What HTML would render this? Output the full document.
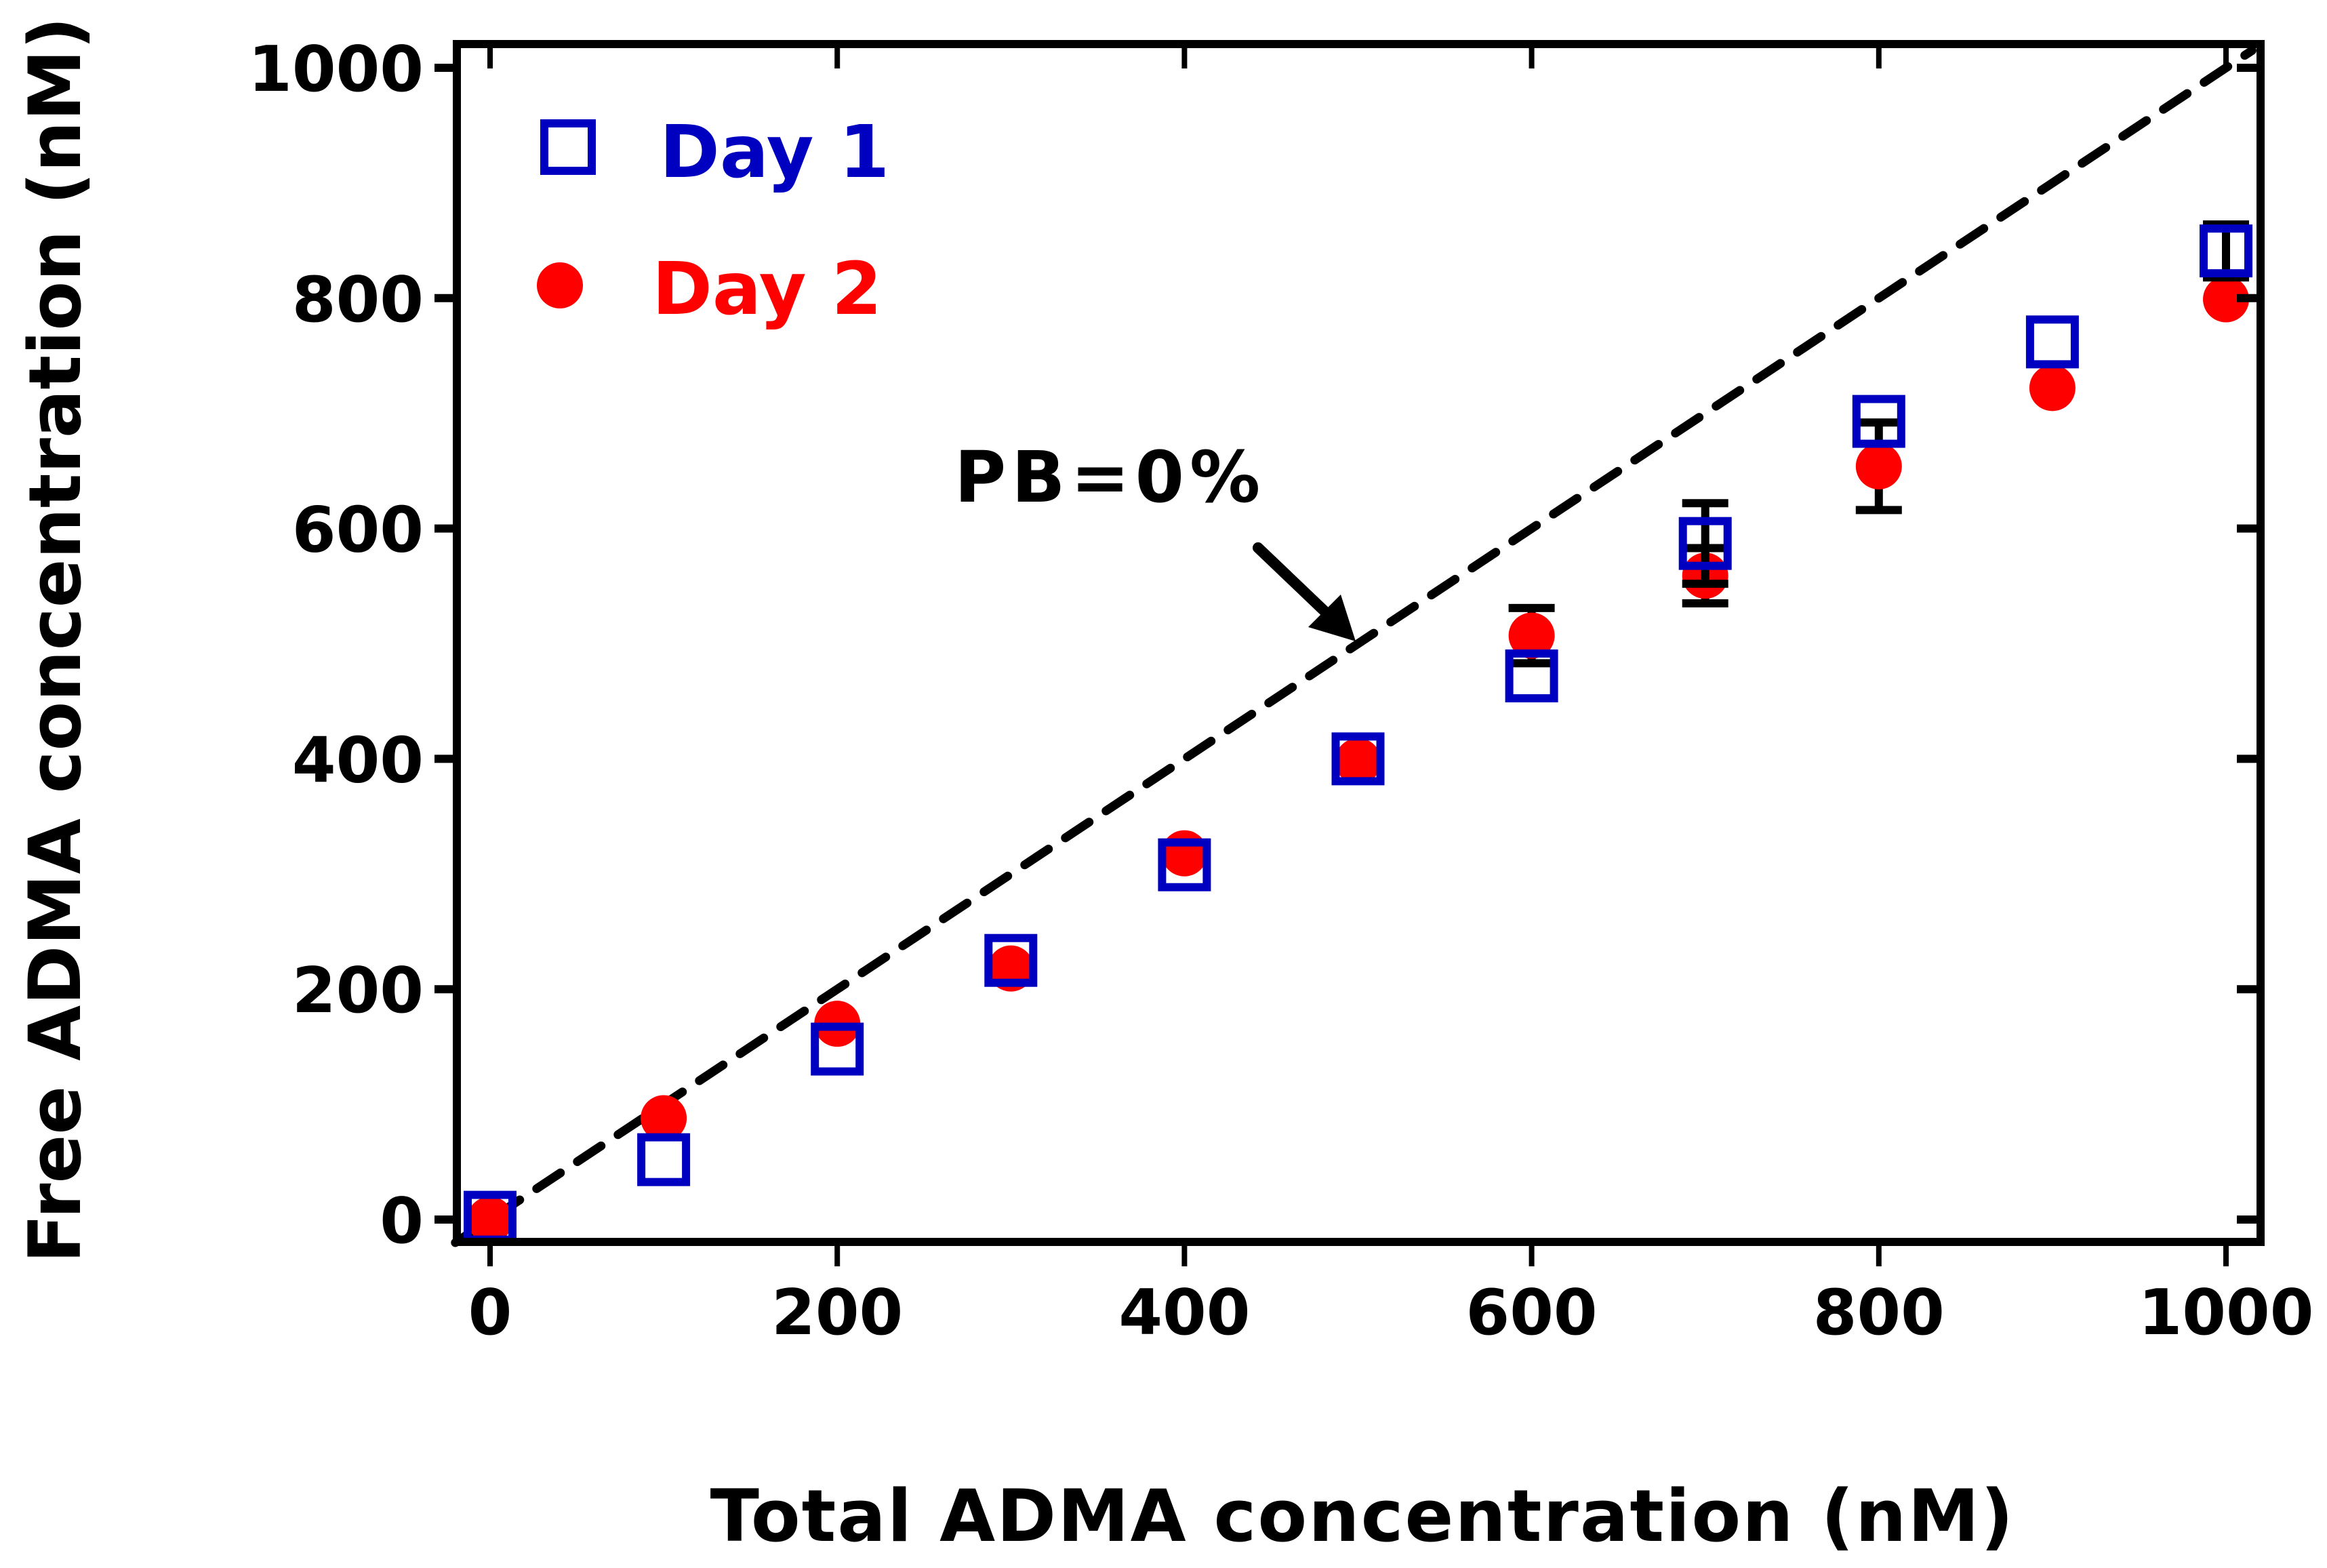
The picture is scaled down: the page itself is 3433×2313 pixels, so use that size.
<!DOCTYPE html>
<html><head><meta charset="utf-8"><style>
html,body{margin:0;padding:0;background:#fff;}
svg{display:block;font-family:"DejaVu Sans","Liberation Sans",sans-serif;font-weight:bold;}
</style></head><body>
<svg id="chart" width="3433" height="2313" viewBox="0 0 3433 2313" xmlns="http://www.w3.org/2000/svg">
<g id="grid"></g>
<line id="idline" stroke="#000" stroke-width="13" stroke-dasharray="42 30" stroke-linecap="round"/>
<g id="marks"></g>
<rect x="674" y="65" width="2661" height="1767" fill="none" stroke="#000" stroke-width="12"/>
<g id="ticks"></g>
<text x="2010" y="2273" font-size="106" text-anchor="middle" letter-spacing="2">Total ADMA concentration (nM)</text>
<text transform="translate(118,944) rotate(-90)" font-size="106" text-anchor="middle">Free ADMA concentration (nM)</text>
<g>
<rect x="803" y="182" width="70" height="70" fill="none" stroke="#0000c0" stroke-width="12"/>
<text x="973" y="261" font-size="107" fill="#0000c0">Day 1</text>
<circle cx="826" cy="421" r="34" fill="#ff0000"/>
<text x="962" y="463" font-size="107" fill="#ff0000">Day 2</text>
</g>
<text x="1408" y="740" font-size="104" letter-spacing="8">PB=0%</text>
<g>
<line x1="1856" y1="808" x2="1965" y2="912" stroke="#000" stroke-width="16" stroke-linecap="round"/>
<polygon points="2000,946 1930,925 1978,877" fill="#000"/>
</g>
</svg>
<script>
const xCats=[0,100,200,300,400,500,600,700,800,900,1000];
const day1=[2,52,148,225,308,400,472,587,693,762,841];
const day2=[0,88,170,218,318,398,507,559,654,722,799];
const day1Err=[0,0,0,0,0,0,0,35,0,0,23];
const day2Err=[0,0,0,0,0,0,24,24,38,0,0];
const tickVals=[0,200,400,600,800,1000];
const tickLabels=["0","200","400","600","800","1000"];
const NS="http://www.w3.org/2000/svg";
function sx(v){return 723+v*2.561;}
function sy(v){return 1799-v*1.699;}
function mk(tag,attrs,parent){const e=document.createElementNS(NS,tag);for(const k in attrs)e.setAttribute(k,attrs[k]);parent.appendChild(e);return e;}
const ticks=document.getElementById('ticks');
const marks=document.getElementById('marks');
const idl=document.getElementById('idline');
idl.setAttribute('x1',sx(-20));idl.setAttribute('y1',sy(-20));
idl.setAttribute('x2',sx(1015));idl.setAttribute('y2',sy(1015));
tickVals.forEach((v,i)=>{
  let t=mk('line',{x1:sx(v),x2:sx(v),y1:1832,y2:1868,stroke:'#000','stroke-width':8},ticks);
  
  
  t=mk('line',{x1:sx(v),x2:sx(v),y1:65,y2:101,stroke:'#000','stroke-width':8},ticks);
  
  
  t=mk('line',{x1:641,x2:674,y1:sy(v),y2:sy(v),stroke:'#000','stroke-width':12},ticks);
  
  
  t=mk('line',{x1:3300,x2:3335,y1:sy(v),y2:sy(v),stroke:'#000','stroke-width':12},ticks);
  
  
  let l=mk('text',{x:sx(v),y:1968,'font-size':93,'text-anchor':'middle'},ticks);
  l.textContent=tickLabels[i];
  
  
  l=mk('text',{x:625,y:sy(v)+34,'font-size':93,'text-anchor':'end'},ticks);
  l.textContent=tickLabels[i];
  
  
});
function errbar(x,y,e){
  if(!e)return;
  const g=mk('g',{stroke:'#000','stroke-width':12},marks);
  
  
  mk('line',{x1:sx(x),x2:sx(x),y1:sy(y+e),y2:sy(y-e)},g);
  mk('line',{x1:sx(x)-34,x2:sx(x)+34,y1:sy(y+e),y2:sy(y+e)},g);
  mk('line',{x1:sx(x)-34,x2:sx(x)+34,y1:sy(y-e),y2:sy(y-e)},g);
}
xCats.forEach((x,i)=>{errbar(x,day2[i],day2Err[i]);});
xCats.forEach((x,i)=>{
  const c=mk('circle',{cx:sx(x),cy:sy(day2[i]),r:34,fill:'#ff0000'},marks);
  
  
});
xCats.forEach((x,i)=>{errbar(x,day1[i],day1Err[i]);});
xCats.forEach((x,i)=>{
  const r=mk('rect',{x:sx(x)-33,y:sy(day1[i])-33,width:66,height:66,fill:'none',stroke:'#0000c0','stroke-width':12},marks);
  
  
});
</script>
</body></html>
